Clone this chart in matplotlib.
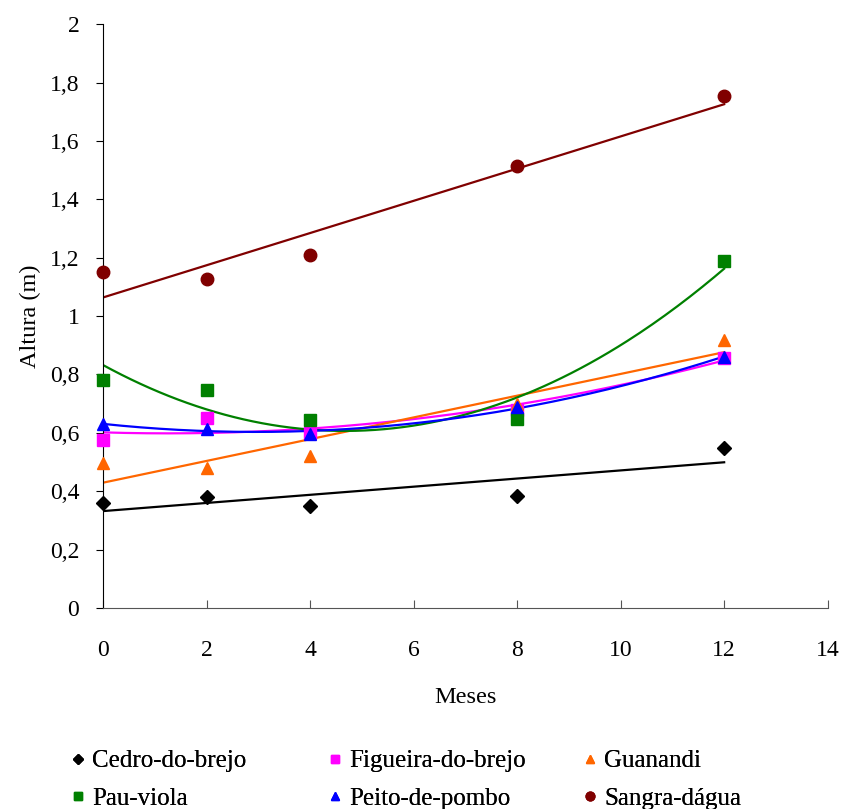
import matplotlib.pyplot as plt
import numpy as np

plt.rcParams['font.family'] = ['Liberation Serif', 'DejaVu Serif']

meses = np.array([0, 2, 4, 8, 12])

cedro = [0.36, 0.38, 0.35, 0.384, 0.548]
figueira = [0.575, 0.65, 0.60, 0.68, 0.856]
guanandi = [0.497, 0.48, 0.52, 0.70, 0.918]
pau_viola = [0.78, 0.747, 0.644, 0.647, 1.19]
peito = [0.63, 0.613, 0.596, 0.69, 0.86]
sangra = [1.15, 1.127, 1.21, 1.514, 1.753]

yticks = np.arange(0, 2.01, 0.2)
ytick_labels = ['0', '0,2', '0,4', '0,6', '0,8', '1', '1,2', '1,4', '1,6', '1,8', '2']

# name, values, colour, marker, trend degree, marker size
series = [
    ('Cedro-do-brejo', cedro, 'black', 'D', 1, 7.5),
    ('Figueira-do-brejo', figueira, '#FF00FF', 's', 2, 9),
    ('Guanandi', guanandi, '#FF6600', '^', 1, 9),
    ('Pau-viola', pau_viola, '#008000', 's', 2, 9),
    ('Peito-de-pombo', peito, '#0000FF', '^', 2, 9),
    ('Sangra-dágua', sangra, '#800000', 'o', 1, 9),
]

fig = plt.figure(figsize=(8.42, 8.09), dpi=100)
ax = fig.add_axes([0.1223, 0.2485, 0.8607, 0.7215])

xs = np.linspace(0, 12, 200)
handles = {}
for name, vals, c, m, deg, ms in series:
    coef = np.polyfit(meses, vals, deg)
    ax.plot(xs, np.polyval(coef, xs), color=c, lw=1.6, zorder=2)
    h, = ax.plot(meses, vals, linestyle='none', marker=m, color=c,
                 markersize=ms, zorder=3, label=name, clip_on=False)
    handles[name] = h

ax.set_xlim(0, 14)
ax.set_ylim(0, 2)
ax.set_xticks(range(0, 15, 2))
ax.set_yticks(yticks)
ax.set_yticklabels(ytick_labels)
ax.spines['top'].set_visible(False)
ax.spines['right'].set_visible(False)
ax.spines['bottom'].set_color('#555555')
ax.tick_params(axis='y', labelsize=17, direction='out', length=5, pad=12)
ax.tick_params(axis='x', labelsize=17, direction='in', length=6, pad=23,
               color='#555555')
ax.set_xlabel('Meses', fontsize=17.5, labelpad=19)
ax.set_ylabel('Altura (m)', fontsize=17.5, labelpad=6)

columns = [('Cedro-do-brejo', 'Pau-viola'),
           ('Figueira-do-brejo', 'Peito-de-pombo'),
           ('Guanandi', 'Sangra-dágua')]
xpos = [0.084, 0.389, 0.692]
for names, x0 in zip(columns, xpos):
    leg = fig.legend([handles[k] for k in names], names, loc='center left',
                     bbox_to_anchor=(x0, 0.036), frameon=False, fontsize=18,
                     handlelength=0.6, handletextpad=0.25, borderaxespad=0,
                     labelspacing=0.6, markerscale=0.7, borderpad=0)
    fig.add_artist(leg)

fig.savefig('out.png', dpi=100)
